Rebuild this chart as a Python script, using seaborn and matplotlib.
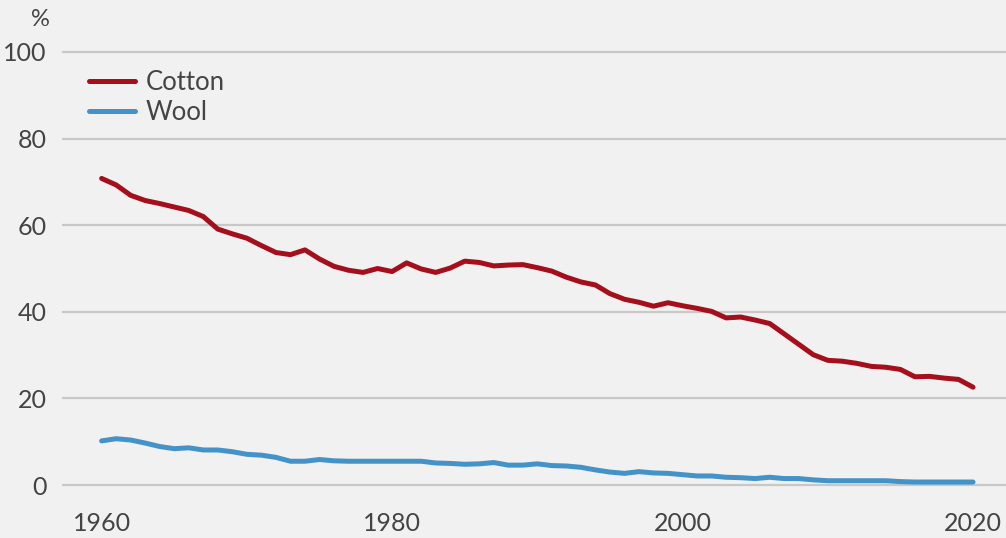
import numpy as np
import pandas as pd
import matplotlib
matplotlib.use("Agg")
import matplotlib.pyplot as plt
import seaborn as sns

# Share of world fibre use, %
years = list(range(1960, 2021))

cotton = [70.8, 69.3, 66.9, 65.7, 65.0, 64.2, 63.4, 62.0, 59.1, 58.0,
          57.0, 55.3, 53.7, 53.2, 54.3, 52.2, 50.5, 49.6, 49.1, 50.0,
          49.3, 51.3, 49.9, 49.1, 50.1, 51.7, 51.4, 50.6, 50.8, 50.9,
          50.2, 49.4, 48.0, 46.9, 46.2, 44.2, 42.9, 42.2, 41.3, 42.1,
          41.4, 40.8, 40.1, 38.6, 38.8, 38.1, 37.3, 34.9, 32.5, 30.1,
          28.8, 28.6, 28.1, 27.4, 27.2, 26.7, 25.0, 25.1, 24.7, 24.4,
          22.6]

wool = [10.2, 10.7, 10.4, 9.7, 8.9, 8.4, 8.6, 8.1, 8.1, 7.7,
        7.1, 6.9, 6.4, 5.5, 5.5, 5.9, 5.6, 5.5, 5.5, 5.5,
        5.5, 5.5, 5.5, 5.1, 5.0, 4.8, 4.9, 5.2, 4.6, 4.6,
        4.9, 4.5, 4.4, 4.1, 3.5, 3.0, 2.7, 3.1, 2.8, 2.7,
        2.4, 2.1, 2.1, 1.8, 1.7, 1.5, 1.8, 1.5, 1.5, 1.2,
        1.0, 1.0, 1.0, 1.0, 1.0, 0.8, 0.7, 0.7, 0.7, 0.7,
        0.7]

series_names = ["Cotton", "Wool"]
colors = {"Cotton": "#a50f1c", "Wool": "#4393c8"}
x_ticks = [1960, 1980, 2000, 2020]
y_ticks = [0, 20, 40, 60, 80, 100]

df = pd.concat([
    pd.DataFrame({"year": years, "share": cotton, "fibre": "Cotton"}),
    pd.DataFrame({"year": years, "share": wool, "fibre": "Wool"}),
])

bg = "#f1f1f1"
text_col = "#444444"
sns.set_style("whitegrid", {
    "axes.facecolor": bg,
    "figure.facecolor": bg,
    "grid.color": "#c8c8c8",
    "axes.edgecolor": bg,
})
plt.rcParams["font.family"] = ["Lato", "DejaVu Sans"]

fig = plt.figure(figsize=(10.06, 5.38), dpi=100)
ax = fig.add_axes([0.0616, 0.0823, 0.9384, 0.8372])

sns.lineplot(data=df, x="year", y="share", hue="fibre", hue_order=series_names,
             palette=colors, linewidth=3.6, ax=ax, solid_capstyle="round")

ax.set_xlim(1957.27, 2022.27)
ax.set_ylim(-2, 102)
ax.set_xticks(x_ticks)
ax.set_yticks(y_ticks)
ax.grid(axis="x", visible=False)
ax.grid(axis="y", linewidth=1.6)
for s in ax.spines.values():
    s.set_visible(False)
ax.tick_params(axis="both", length=0, labelsize=18, labelcolor=text_col)
ax.tick_params(axis="y", pad=11)
ax.tick_params(axis="x", pad=13)
ax.set_xlabel("")
ax.set_ylabel("")

fig.text(40 / 1006, 1 - 20 / 538, "%", ha="center", va="center",
         fontsize=17, color=text_col)

handles, labels = ax.get_legend_handles_labels()
leg = ax.legend(handles, labels, loc="upper left",
                bbox_to_anchor=(27 / 944, 0.94), frameon=False,
                fontsize=18.5, handlelength=1.8, handletextpad=0.4,
                labelspacing=0.2, borderaxespad=0, borderpad=0)
for t in leg.get_texts():
    t.set_color(text_col)

fig.savefig("out.png", dpi=100, facecolor=bg)
